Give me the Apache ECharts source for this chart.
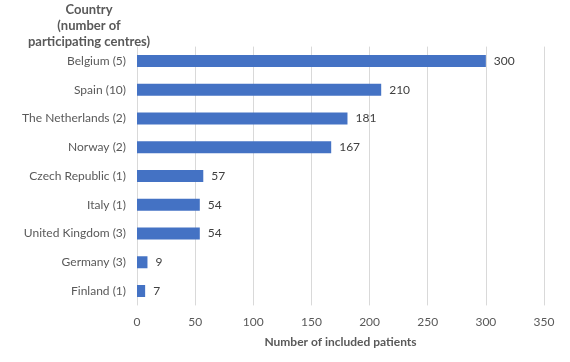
<!DOCTYPE html>
<html>
<head>
<meta charset="utf-8">
<script src="https://cdn.jsdelivr.net/npm/echarts@6/dist/echarts.min.js"></script>
<style>html,body{margin:0;padding:0;background:#fff}#c{width:570px;height:362px}</style>
</head>
<body>
<div id="c"></div>
<script>
const categories = ["Belgium (5)","Spain (10)","The Netherlands (2)","Norway (2)","Czech Republic (1)","Italy (1)","United Kingdom (3)","Germany (3)","Finland (1)"];
const patients = [300,210,181,167,57,54,54,9,7];
const xTicks = [0,50,100,150,200,250,300,350];

const font = "Lato, 'Open Sans', sans-serif";
const chart = echarts.init(document.getElementById('c'));
chart.setOption({
  animation: false,
  textStyle: {fontFamily: font},
  title: {
    text: "Country\n(number of\nparticipating centres)",
    left: 89, top: 2, padding: 0, textAlign: 'center',
    textStyle: {fontFamily: font, fontSize: 13, fontWeight: 'bold', color: '#595959', lineHeight: 16}
  },
  grid: {left: 137, right: 26, top: 46.6, bottom: 56.6, containLabel: false},
  xAxis: {
    type: 'value', min: xTicks[0], max: xTicks[xTicks.length-1], interval: 50,
    name: "Number of included patients", nameLocation: 'middle', nameGap: 31,
    nameTextStyle: {fontFamily: font, fontSize: 12, fontWeight: 'bold', color: '#595959'},
    axisLine: {show: false}, axisTick: {show: false},
    axisLabel: {fontFamily: font, fontSize: 12, color: '#595959', margin: 11},
    splitLine: {show: true, lineStyle: {color: '#d9d9d9', width: 1}}
  },
  yAxis: {
    type: 'category', data: categories, inverse: true,
    axisLine: {show: false}, axisTick: {show: false},
    axisLabel: {fontFamily: font, fontSize: 12, color: '#595959', margin: 11}
  },
  series: [{
    type: 'bar', data: patients, barWidth: 12,
    itemStyle: {color: '#4472C4'},
    label: {show: true, position: 'right', distance: 8, fontFamily: font, fontSize: 12, color: '#404040'}
  }]
});
</script>
</body>
</html>
